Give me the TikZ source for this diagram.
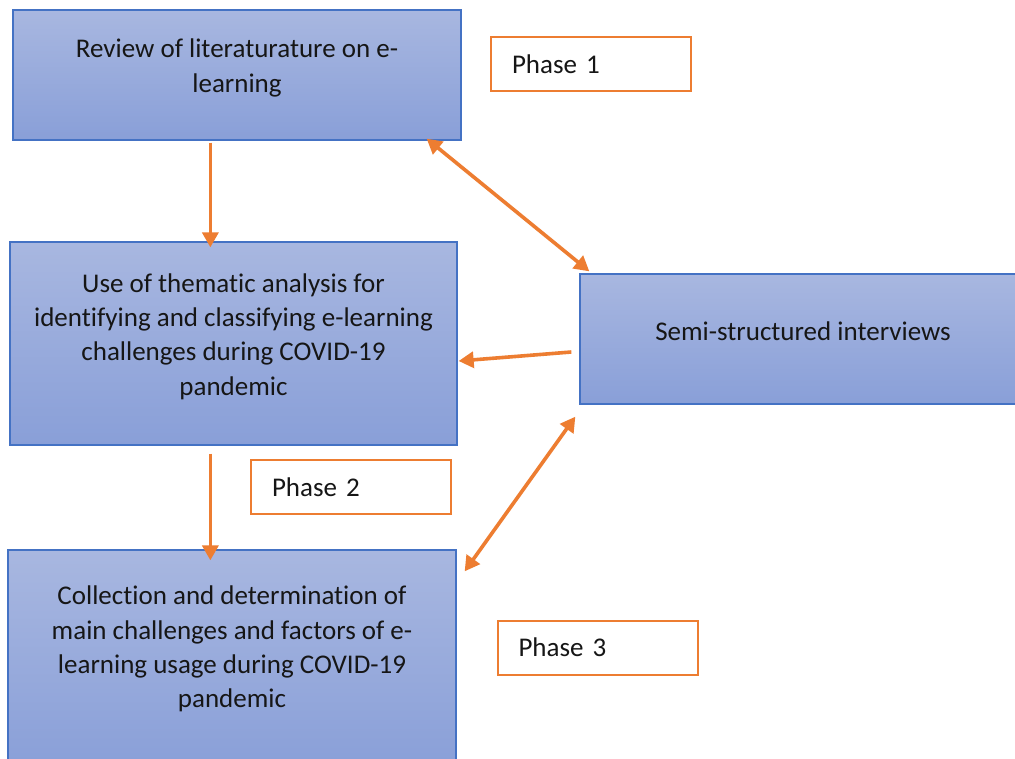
\documentclass[tikz,border=0pt]{standalone}
\usepackage{fontspec}
\setmainfont{Carlito}[Ligatures={NoCommon}]
\usetikzlibrary{arrows.meta}
\definecolor{boxtop}{RGB}{168,183,224}
\definecolor{boxbot}{RGB}{137,159,216}
\definecolor{boxline}{RGB}{68,114,196}
\definecolor{orng}{RGB}{237,125,49}
\definecolor{txt}{RGB}{22,22,22}
\tikzset{
 stagebox/.style={draw=boxline, line width=1.3pt, top color=boxtop, bottom color=boxbot, inner sep=0pt},
 phasebox/.style={draw=orng, line width=2pt, fill=white, inner xsep=21pt, inner ysep=0pt, minimum height=54pt, text width=158pt, align=left, text=txt, font=\fontsize{27}{34}\selectfont},
 lbl/.style={text=txt, font=\fontsize{27}{34.3}\selectfont, align=center, inner sep=0pt},
 arr/.style={draw=orng, line width=3.6pt, -{Triangle[length=15pt,width=16pt]}},
 darr/.style={draw=orng, line width=3.6pt, {Triangle[length=15pt,width=16pt]}-{Triangle[length=15pt,width=16pt]}},
}
\begin{document}
\begin{tikzpicture}[x=1pt,y=-1pt]
\clip (0,0) rectangle (1015,758);
\fill[white] (0,0) rectangle (1015,758);
% stage boxes
\node[stagebox, minimum width=448pt, minimum height=130pt] (b1) at (237,75) {};
\node[stagebox, minimum width=447pt, minimum height=203pt] (b2) at (233.5,343.5) {};
\node[stagebox, minimum width=448pt, minimum height=220pt] (b3) at (232,660) {};
\node[stagebox, minimum width=450pt, minimum height=130pt] (b4) at (805,339) {};
% texts
\node[lbl] (t1) at ([yshift=7pt]b1.center) {Review of literaturature on e-\\learning};
\node[lbl] (t2) at ([yshift=7pt]b2.center) {Use of thematic analysis for\\identifying and classifying e-learning\\challenges during COVID-19\\pandemic};
\node[lbl] (t3) at ([yshift=11pt]b3.center) {Collection and determination of\\main challenges and factors of e-\\learning usage during COVID-19\\pandemic};
\node[lbl] (t4) at ([yshift=8pt, xshift=-2pt]b4.center) {Semi-structured interviews};
% phase boxes
\node[phasebox] (p1) at (591,64) {Phase 1};
\node[phasebox] (p2) at (351,487) {Phase 2};
\node[phasebox] (p3) at (597.5,647.5) {Phase 3};
% arrows
\draw[arr] ([xshift=198pt,yshift=-2pt]b1.south west) -- ([xshift=201pt,yshift=-6pt]b2.north west);
\draw[arr] ([xshift=201pt,yshift=-8pt]b2.south west) -- ([xshift=203pt,yshift=-11pt]b3.north west);
\draw[darr] ([xshift=-35pt,yshift=2pt]b1.south east) -- ([xshift=10pt,yshift=2pt]b4.north west);
\draw[arr] ([xshift=-8pt,yshift=-13pt]b4.west) -- ([xshift=1pt,yshift=-17.5pt]b2.east);
\draw[darr] ([xshift=-4pt,yshift=-12pt]b4.south west) -- ([xshift=8pt,yshift=-22pt]b3.north east);
\end{tikzpicture}
\end{document}
